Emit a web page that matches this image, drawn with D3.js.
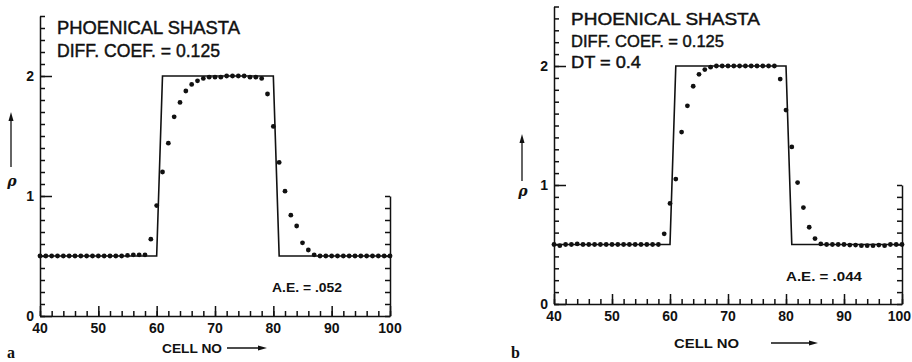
<!DOCTYPE html>
<html>
<head>
<meta charset="utf-8">
<script src="https://cdn.jsdelivr.net/npm/d3@7"></script>
<style>
  body { margin: 0; background: #fff; }
  svg { display: block; }
  text { fill: #111; }
</style>
</head>
<body>
<svg id="chart" width="912" height="362"></svg>
<script>
// cells 40..100
const cells = d3.range(40, 101);

// exact (step) solution
const exactX = [40, 60, 61, 80, 81, 100];
const exactY = [0.5, 0.5, 2, 2, 0.5, 0.5];

// panel a: numerical density
const rhoA = [
  0.5, 0.5, 0.5, 0.5, 0.5, 0.5, 0.5, 0.5, 0.5, 0.5,
  0.5, 0.5, 0.5, 0.5, 0.5, 0.505, 0.51, 0.51, 0.51, 0.64,
  0.92, 1.20, 1.44, 1.66, 1.78, 1.875, 1.93, 1.96, 1.98, 1.99,
  1.99, 1.99, 2.0, 2.0, 2.0, 2.0, 1.99, 1.99, 1.98, 1.85,
  1.58, 1.28, 1.04, 0.84, 0.75, 0.61, 0.55, 0.51, 0.5, 0.5,
  0.5, 0.5, 0.5, 0.5, 0.5, 0.5, 0.5, 0.5, 0.5, 0.5, 0.5
];

// panel b
const rhoB = [
  0.5, 0.49, 0.5, 0.5, 0.505, 0.5, 0.5, 0.5, 0.5, 0.5,
  0.5, 0.5, 0.5, 0.5, 0.5, 0.5, 0.5, 0.5, 0.5, 0.59,
  0.845, 1.05, 1.445, 1.665, 1.83, 1.93, 1.97, 1.99, 2.0, 2.0,
  2.0, 2.0, 2.0, 2.0, 2.0, 2.0, 2.0, 2.0, 2.0, 1.89,
  1.63, 1.32, 1.02, 0.81, 0.645, 0.55, 0.505, 0.5, 0.5, 0.5,
  0.5, 0.495, 0.495, 0.49, 0.49, 0.49, 0.495, 0.49, 0.5, 0.5, 0.5
];

const xTickLabels = [40, 50, 60, 70, 80, 90, 100];
const yTickLabels = [0, 1, 2];

const svg = d3.select('#chart');
const W = 912;

const panels = [
  {
    rho: rhoA, letter: 'a', ae: 'A.E. = .052',
    lines: ['PHOENICAL SHASTA', 'DIFF.  COEF. = 0.125'],
    x0: 40, x1: 390, y0: 316, y2: 76,
    textX: 57, textY: 34, lineGap: 23, textW: [183, 163], textSize: 19,
    aeX: 272, aeY: 292, aeW: 70, cellX: 162, cellY: 353, cellW: 60, arrow: [227, 267],
    letterX: 7, rhoX: 12, rhoY: 186, rhoArrow: [167, 112]
  },
  {
    rho: rhoB, letter: 'b', ae: 'A.E. = .044',
    lines: ['PHOENICAL  SHASTA', 'DIFF. COEF. = 0.125', 'DT = 0.4'],
    x0: 554, x1: 902, y0: 304, y2: 66,
    textX: 571, textY: 25, lineGap: 21.5, textW: [189, 153, 70], textSize: 17,
    aeX: 786, aeY: 281, aeW: 76, cellX: 674, cellY: 348, cellW: 65, arrow: [771, 818],
    letterX: 511, rhoX: 523, rhoY: 196, rhoArrow: [181, 134]
  }
];

panels.forEach(p => {
  const x = d3.scaleLinear().domain([40, 100]).range([p.x0, p.x1]);
  const unit = (p.y0 - p.y2) / 2;
  const y = d3.scaleLinear().domain([0, 2.5]).range([p.y0, p.y0 - 2.5 * unit]);
  const yR = d3.scaleLinear().domain([0, 1]).range([p.y0, p.y0 - unit]);

  const g = svg.append('g');

  // left axis, ticks pointing inward
  const yTicks = d3.range(0, 26).map(d => d / 10);
  g.append('g')
    .attr('transform', `translate(${p.x0},0)`)
    .call(d3.axisRight(y).tickValues(yTicks).tickSize(5).tickSizeOuter(0).tickFormat(''));
  g.append('g')
    .attr('transform', `translate(${p.x0},0)`)
    .call(d3.axisRight(y).tickValues(yTickLabels).tickSize(12).tickSizeOuter(0).tickFormat(''))
    .select('.domain').remove();

  // right axis (0..1 only)
  g.append('g')
    .attr('transform', `translate(${p.x1},0)`)
    .call(d3.axisLeft(yR).tickValues(d3.range(0, 11).map(d => d / 10)).tickSize(5).tickSizeOuter(0).tickFormat(''));

  // bottom axis
  g.append('g')
    .attr('transform', `translate(0,${p.y0})`)
    .call(d3.axisTop(x).tickValues(d3.range(40, 101, 2)).tickSize(5).tickSizeOuter(0).tickFormat(''));
  g.append('g')
    .attr('transform', `translate(0,${p.y0})`)
    .call(d3.axisTop(x).tickValues(xTickLabels).tickSize(10).tickSizeOuter(0).tickFormat(''))
    .select('.domain').remove();

  g.selectAll('.domain, .tick line')
    .attr('stroke', '#111').attr('stroke-width', 1.5);

  // tick labels
  g.selectAll('.xl').data(xTickLabels).join('text')
    .attr('x', d => x(d)).attr('y', p.y0 + 17)
    .attr('text-anchor', 'middle')
    .style('font', 'bold 14px "Liberation Sans", Arial, sans-serif')
    .text(d => d)
    .each(function () {
      // keep the last label inside the window
      const w = this.getComputedTextLength();
      const cx = +this.getAttribute('x');
      if (cx + w / 2 > W - 1) this.setAttribute('x', W - 1 - w / 2);
    });
  g.selectAll('.yl').data(yTickLabels).join('text')
    .attr('x', p.x0 - 6).attr('y', d => y(d) + 5)
    .attr('text-anchor', 'end')
    .style('font', 'bold 14px "Liberation Sans", Arial, sans-serif')
    .text(d => d);

  // exact solution
  const line = d3.line().x(d => x(d[0])).y(d => y(d[1]));
  g.append('path')
    .datum(exactX.map((v, i) => [v, exactY[i]]))
    .attr('d', line)
    .attr('fill', 'none').attr('stroke', '#111').attr('stroke-width', 1.6);

  // computed points
  g.selectAll('.pt').data(cells).join('circle')
    .attr('cx', d => x(d)).attr('cy', (d, i) => y(p.rho[i]))
    .attr('r', 2.4).attr('fill', '#111');

  // header text
  p.lines.forEach((t, i) => {
    g.append('text')
      .attr('x', p.textX).attr('y', p.textY + i * p.lineGap)
      .attr('textLength', p.textW[i]).attr('lengthAdjust', 'spacingAndGlyphs')
      .attr('stroke', '#111').attr('stroke-width', 0.45)
      .style('font', `${p.textSize}px "Liberation Sans", Arial, sans-serif`)
      .text(t);
  });

  // A.E.
  g.append('text')
    .attr('x', p.aeX).attr('y', p.aeY)
    .attr('textLength', p.aeW).attr('lengthAdjust', 'spacingAndGlyphs')
    .style('font', 'bold 12px "Liberation Sans", Arial, sans-serif')
    .text(p.ae);

  // x title with arrow
  g.append('text')
    .attr('x', p.cellX).attr('y', p.cellY)
    .attr('textLength', p.cellW).attr('lengthAdjust', 'spacingAndGlyphs')
    .style('font', 'bold 13px "Liberation Sans", Arial, sans-serif')
    .text('CELL NO');
  const ay = p.cellY - 5;
  g.append('line')
    .attr('x1', p.arrow[0]).attr('x2', p.arrow[1] - 6)
    .attr('y1', ay).attr('y2', ay)
    .attr('stroke', '#111').attr('stroke-width', 1.3);
  g.append('path')
    .attr('d', `M${p.arrow[1]},${ay} L${p.arrow[1] - 9},${ay - 2.5} L${p.arrow[1] - 9},${ay + 2.5} Z`)
    .attr('fill', '#111');

  // y title rho with arrow
  g.append('text')
    .attr('x', p.rhoX).attr('y', p.rhoY)
    .attr('text-anchor', 'middle')
    .style('font', 'italic bold 14px "DejaVu Serif", serif')
    .text('ρ');
  const ax = p.rhoX - 1;
  g.append('line')
    .attr('x1', ax).attr('x2', ax)
    .attr('y1', p.rhoArrow[0]).attr('y2', p.rhoArrow[1] + 6)
    .attr('stroke', '#111').attr('stroke-width', 1.3);
  g.append('path')
    .attr('d', `M${ax},${p.rhoArrow[1]} L${ax - 2.5},${p.rhoArrow[1] + 9} L${ax + 2.5},${p.rhoArrow[1] + 9} Z`)
    .attr('fill', '#111');

  // panel letter
  g.append('text')
    .attr('x', p.letterX).attr('y', 358)
    .style('font', 'bold 16px "Liberation Serif", serif')
    .text(p.letter);
});
</script>
</body>
</html>
